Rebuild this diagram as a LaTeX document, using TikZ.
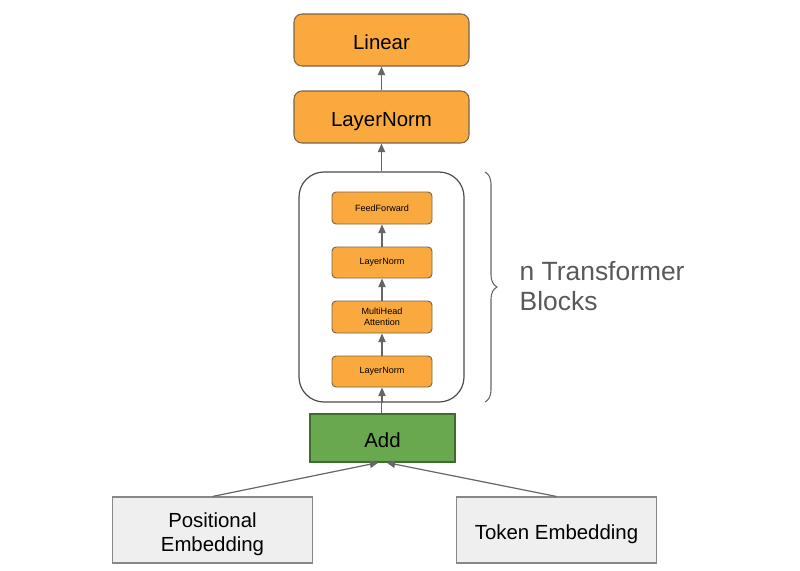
\documentclass[tikz,border=0pt]{standalone}
\usepackage{fontspec}
\setmainfont{Liberation Sans}
\usetikzlibrary{arrows.meta,decorations.pathreplacing}
\definecolor{orfill}{HTML}{FAA93E}
\definecolor{ordraw}{HTML}{7A6448}
\definecolor{grfill}{HTML}{6AA84F}
\definecolor{grdraw}{HTML}{3F6B2C}
\definecolor{gyfill}{HTML}{EFEFEF}
\definecolor{gydraw}{HTML}{888888}
\definecolor{arrcol}{HTML}{666666}
\definecolor{txtgray}{HTML}{595959}
\tikzset{
  bigbox/.style={draw=ordraw, fill=orfill, line width=0.8pt, rounded corners=6pt,
    minimum width=131.25pt, minimum height=39pt, inner sep=0pt,
    text height=14.5pt, text depth=0pt, font=\fontsize{15.3}{18}\selectfont},
  smallbox/.style={draw=ordraw, fill=orfill, line width=0.7pt, rounded corners=3pt,
    minimum width=75pt, minimum height=24pt, inner sep=0pt, align=center,
    font=\fontsize{6.8}{8.5}\selectfont},
  addbox/.style={draw=grdraw, fill=grfill, line width=0.8pt,
    minimum width=108.75pt, minimum height=36pt, inner sep=0pt,
    text height=14.5pt, text depth=0pt, font=\fontsize{15.3}{18}\selectfont},
  embbox/.style={draw=gydraw, fill=gyfill, line width=0.8pt,
    minimum width=150pt, minimum height=49.5pt, inner sep=0pt,
    font=\fontsize{15.3}{18}\selectfont},
  container/.style={draw=black!70, line width=0.9pt, rounded corners=18.75pt,
    minimum width=123.75pt, minimum height=172.5pt, inner sep=0pt},
  arr/.style={draw=arrcol, line width=0.9pt, -{Triangle[length=6.5pt,width=5.5pt]}},
}
\begin{document}
\begin{tikzpicture}[x=0.75pt,y=-0.75pt]
\useasboundingbox (0,0) rectangle (800,571);
\node[bigbox] (linear) at (381.5,40) {Linear};
\node[bigbox] (lnTop) at (381.5,117) {LayerNorm};
\node[container] (blk) at (381.5,287) {};
\node[smallbox] (ff) at (382,208) {FeedForward};
\node[smallbox, minimum height=23.25pt] (ln2) at (382,262.5) {LayerNorm};
\node[smallbox] (mha) at (382,317) {MultiHead\\Attention};
\node[smallbox, minimum height=23.25pt] (ln1) at (382,371.5) {LayerNorm};
\node[addbox] (add) at (382.5,438) {Add};
\node[embbox] (pos) at (212.5,530) {\raisebox{-3.75pt}[\height][\depth]{\begin{tabular}{@{}c@{}}Positional\\Embedding\end{tabular}}};
\node[embbox, text height=14.5pt, text depth=0pt] (tok) at (556.5,530) {Token Embedding};

\draw[arr] (lnTop.north) -- (linear.south);
\draw[arr] (blk.north -| lnTop.south) -- (lnTop.south);
\draw[arr] (ln1.north) -- (mha.south);
\draw[arr] (mha.north) -- (ln2.south);
\draw[arr] (ln2.north) -- (ff.south);
\draw[arr] (blk.south -| ln1.south) -- (ln1.south);
\draw[draw=arrcol, line width=0.9pt] (add.north -| blk.south) -- (blk.south);
\draw[arr] (pos.north) -- ([xshift=-3pt]add.south);
\draw[arr] (tok.north) -- ([xshift=3pt]add.south);

\coordinate (bt) at (485,172);
\coordinate (bb) at (485,402);
\draw[draw=black!60, line width=0.8pt, decorate,
  decoration={brace, amplitude=9pt}] (bt) -- (bb);
\node[anchor=west, align=left, text=txtgray,
  font=\fontsize{19.8}{22.5}\selectfont] (lbl) at (515,286) {n Transformer\\Blocks};
\end{tikzpicture}
\end{document}
